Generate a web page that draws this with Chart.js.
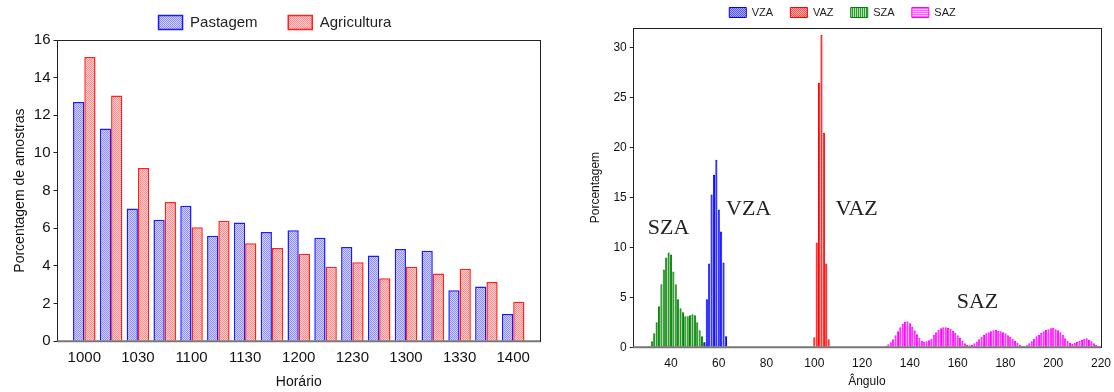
<!DOCTYPE html>
<html><head><meta charset="utf-8">
<script src="https://cdn.jsdelivr.net/npm/chart.js@4"></script>
<style>
html,body{margin:0;padding:0;background:#fff;}
#wrap{position:relative;width:1114px;height:392px;}
canvas{position:absolute;top:0;}
</style></head><body>
<div id="wrap">
<canvas id="c1" width="560" height="392" style="left:0"></canvas>
<canvas id="c2" width="554" height="392" style="left:560px"></canvas>
</div>
<script>
// left: samples per time slot
const horarios = ['1000','1015','1030','1045','1100','1115','1130','1145','1200','1215','1230','1245','1300','1315','1330','1345','1400'];
const pastagem = [12.7, 11.3, 7.05, 6.45, 7.2, 5.6, 6.3, 5.8, 5.9, 5.5, 5.0, 4.55, 4.9, 4.8, 2.7, 2.9, 1.45];
const agricultura = [15.1, 13.05, 9.2, 7.4, 6.05, 6.4, 5.2, 4.95, 4.65, 3.95, 4.2, 3.35, 3.95, 3.6, 3.85, 3.15, 2.1];

// right: angle histograms, 1 degree bins
const vzaStart = 54;
const vza = [0.5, 4.8, 8.4, 15.3, 17.3, 18.8, 13.8, 11.6, 8.5, 1.1];
const vazStart = 100;
const vaz = [1.0, 10.5, 26.5, 31.3, 21.5, 8.4, 0.8];
const szaStart = 31;
const sza = [0.15, 0.6, 1.4, 2.5, 4.1, 6.3, 7.8, 9.0, 9.5, 9.3, 7.6, 6.3, 4.8, 3.9, 3.5, 3.1, 3.1, 3.2, 3.3, 3.2, 2.5, 1.7, 1.1, 0.5, 0.2];
const sazStart = 130;
const saz = [0.15, 0.3, 0.5, 0.8, 1.2, 1.6, 2.0, 2.35, 2.55, 2.6,
  2.4, 2.05, 1.7, 1.3, 0.95, 0.65, 0.55, 0.6, 0.7, 0.85,
  1.25, 1.5, 1.75, 1.9, 2.0, 2.0, 1.95, 1.85, 1.65, 1.45,
  1.2, 0.95, 0.65, 0.4, 0.25, 0.2, 0.25, 0.4, 0.55, 0.8,
  1.05, 1.25, 1.4, 1.5, 1.6, 1.7, 1.75, 1.65, 1.6, 1.5,
  1.4, 1.2, 1.05, 0.85, 0.65, 0.45, 0.25, 0.12, 0.12, 0.2,
  0.4, 0.6, 0.85, 1.1, 1.25, 1.45, 1.6, 1.75, 1.8, 1.9,
  1.95, 1.8, 1.7, 1.5, 1.25, 0.9, 0.65, 0.45, 0.35, 0.45,
  0.55, 0.65, 0.75, 0.85, 0.9, 0.75, 0.6, 0.4, 0.25, 0.12];
const rotulos = [{t:'SZA', x:39, y:11.9}, {t:'VZA', x:72.5, y:13.8}, {t:'VAZ', x:117.7, y:13.8}, {t:'SAZ', x:168.3, y:4.5}];

Chart.defaults.font.family = "'Liberation Sans', Arial, sans-serif";
Chart.defaults.color = '#111';
Chart.defaults.animation = false;

function pat(bg, fg, kind){
  const c = document.createElement('canvas'); c.width = 2; c.height = 2;
  const g = c.getContext('2d');
  g.fillStyle = bg; g.fillRect(0,0,2,2);
  g.fillStyle = fg;
  if(kind==='check'){ g.fillRect(0,0,1,1); g.fillRect(1,1,1,1); }
  else if(kind==='v'){ g.fillRect(0,0,1,2); }
  else { g.fillRect(0,0,2,1); }
  return g.createPattern(c, 'repeat');
}
// pad legend text (all but the last) so items sit further apart without growing the legend's height
const spaced = gap => chart => {
  const items = Chart.defaults.plugins.legend.labels.generateLabels(chart);
  items.forEach((l, i) => { if(i < items.length-1) l.text = l.text + gap; });
  return items;
};

const frame = {
  id:'frame',
  afterDatasetsDraw(chart){
    const a = chart.chartArea, ctx = chart.ctx;
    ctx.save(); ctx.strokeStyle = '#222'; ctx.lineWidth = 1;
    ctx.strokeRect(Math.round(a.left)+0.5, Math.round(a.top)+0.5, Math.round(a.right-a.left), Math.round(a.bottom-a.top));
    ctx.strokeStyle = '#777'; ctx.lineWidth = 2;
    const y0 = chart.scales.y.getPixelForValue(0);
    ctx.beginPath(); ctx.moveTo(a.left, y0); ctx.lineTo(a.right, y0); ctx.stroke();
    ctx.restore();
  }
};
const labels = {
  id:'labels',
  afterDatasetsDraw(chart){
    const ctx = chart.ctx, sx = chart.scales.x, sy = chart.scales.y;
    ctx.save(); ctx.font = "22px 'Liberation Serif', serif"; ctx.fillStyle = '#222';
    ctx.textAlign = 'center'; ctx.textBaseline = 'middle';
    rotulos.forEach(r=> ctx.fillText(r.t, sx.getPixelForValue(r.x), sy.getPixelForValue(r.y)));
    ctx.restore();
  }
};

new Chart(document.getElementById('c1'), {
  type:'bar',
  data:{ datasets:[
    { label:'Pastagem', data: pastagem.map((v,i)=>({x:i, y:v})), backgroundColor: pat('#d6d6ff','#8c8cff','check'), borderColor:'#1a1aff', borderWidth:1.5, borderSkipped:'bottom' },
    { label:'Agricultura', data: agricultura.map((v,i)=>({x:i, y:v})), backgroundColor: pat('#ffd6d6','#ff8c8c','check'), borderColor:'#ff2020', borderWidth:1.5, borderSkipped:'bottom' }
  ]},
  options:{
    responsive:false,
    categoryPercentage:0.84, barPercentage:1,
    layout:{ padding:{ left:10, right:20, top:1, bottom:1 } },
    plugins:{
      legend:{ labels:{ boxWidth:24, boxHeight:14, padding:14, font:{ size:15 }, color:'#222', generateLabels: spaced('    ') } },
      tooltip:{ enabled:false }
    },
    scales:{
      x:{ type:'linear', min:-1, max:17, offset:false,
        afterBuildTicks: ax => { ax.ticks = horarios.map((h,i)=>({value:i})); },
        ticks:{ autoSkip:false, maxRotation:0, font:{ size:15 }, padding:0 },
        grid:{ display:false }, border:{ display:false },
        title:{ display:true, text:'Horário', font:{ size:14 }, padding:{ top:7, bottom:0 } } },
      y:{ min:0, max:16,
        ticks:{ stepSize:2, font:{ size:15 }, padding:3 },
        grid:{ drawOnChartArea:false, tickLength:4, color:'#222' }, border:{ display:false },
        title:{ display:true, text:'Porcentagem de amostras', font:{ size:14 }, padding:{ top:2, bottom:2 } } }
    }
  },
  plugins:[frame]
});
// only every other slot gets a label
Chart.getChart('c1').options.scales.x.ticks.callback = v => v%2===0 ? horarios[v] : '';
Chart.getChart('c1').update();

const conj = (start, vals) => vals.map((v,i)=>({x:start+i, y:v}));
new Chart(document.getElementById('c2'), {
  type:'bar',
  data:{ datasets:[
    { label:'VZA', data: conj(vzaStart, vza), backgroundColor: pat('#b4b4ff','#5050ff','check'), borderColor:'#0000ff', borderWidth:1, grouped:false },
    { label:'VAZ', data: conj(vazStart, vaz), backgroundColor: pat('#ffb4b4','#ff5050','check'), borderColor:'#ff0000', borderWidth:1, grouped:false },
    { label:'SZA', data: conj(szaStart, sza), backgroundColor: pat('#b4e0b4','#2a9a2a','v'), borderColor:'#008000', borderWidth:1, grouped:false },
    { label:'SAZ', data: conj(sazStart, saz), backgroundColor: pat('#ffc0ff','#ff60ff','h'), borderColor:'#ff00ff', borderWidth:1, grouped:false }
  ]},
  options:{
    responsive:false,
    categoryPercentage:1, barPercentage:0.9,
    layout:{ padding:{ left:24, right:13, top:2, bottom:3 } },
    plugins:{
      legend:{ labels:{ boxWidth:17, boxHeight:10, padding:5, font:{ size:11 }, color:'#222', generateLabels: spaced('    ') } },
      tooltip:{ enabled:false }
    },
    scales:{
      x:{ type:'linear', min:24, max:220, offset:false,
        ticks:{ stepSize:20, includeBounds:false, font:{ size:12 }, padding:1 },
        grid:{ display:false }, border:{ display:false },
        title:{ display:true, text:'Ângulo', font:{ size:12 }, padding:{ top:3, bottom:0 } } },
      y:{ min:0, max:32,
        afterBuildTicks: ax => { ax.ticks = [0,5,10,15,20,25,30].map(v=>({value:v})); },
        ticks:{ font:{ size:12 }, padding:3 },
        grid:{ drawOnChartArea:false, tickLength:3, color:'#222' }, border:{ display:false },
        title:{ display:true, text:'Porcentagem', font:{ size:12 }, padding:{ bottom:8 } } }
    }
  },
  plugins:[frame, labels]
});
</script>
</body></html>
